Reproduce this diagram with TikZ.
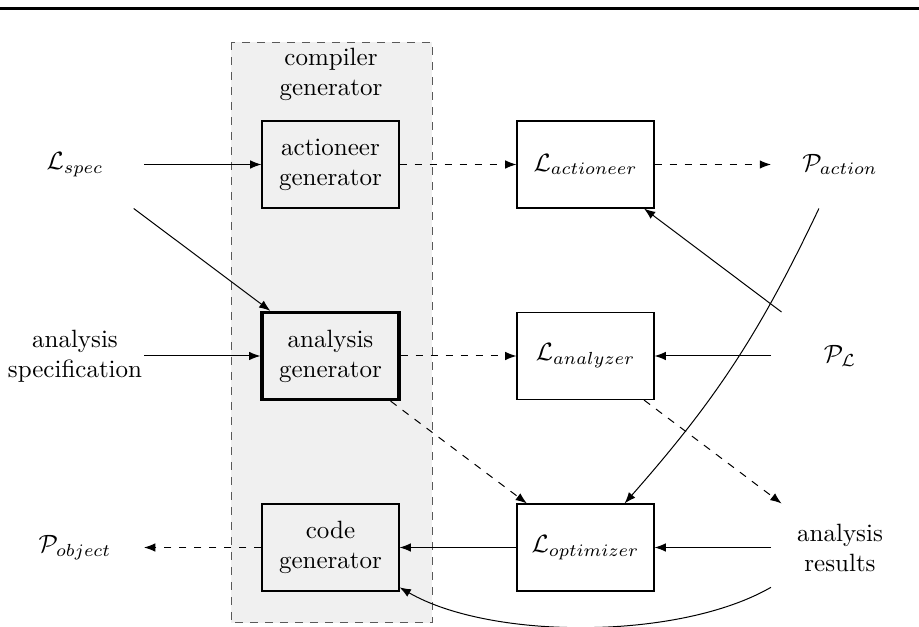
\documentclass[tikz,border=0pt]{standalone}
\usetikzlibrary{arrows.meta}
\begin{document}
\begin{tikzpicture}[x=1pt,y=1pt,
  box/.style={draw, line width=0.45pt, minimum width=54.8pt, minimum height=34.8pt, inner sep=0.5pt, align=center},
  thickbox/.style={box, line width=1.3pt},
  lbl/.style={minimum width=54.8pt, minimum height=34.8pt, inner sep=0.5pt, align=center},
  arr/.style={-{Latex[length=4.5pt,width=3.4pt]}, line width=0.4pt},
  darr/.style={arr, dashed}]
\useasboundingbox (0,0) rectangle (367.6,-250.8);
\draw[line width=1.1pt] (0,-3.5) -- (367.6,-3.5);
\draw[dashed, draw=black!65, fill=black!6, line width=0.4pt] (92.4,-16.9) rectangle (172.8,-249.2);
\node[align=center, inner sep=0pt] (cg) at (132.4,-29.6) {compiler\\generator};
% column 1
\node[lbl] (lspec) at (30,-65.8) {$\mathcal{L}_{spec}$};
\node[lbl] (aspec) at (30,-142.4) {analysis\\specification};
\node[lbl] (pobj) at (30,-219) {$\mathcal{P}_{object}$};
% column 2
\node[box] (actgen) at (132.2,-65.8) {actioneer\\generator};
\node[thickbox] (angen) at (132.2,-142.4) {analysis\\generator};
\node[box] (codegen) at (132.2,-219) {code\\generator};
% column 3
\node[box] (lact) at (234.2,-65.8) {$\mathcal{L}_{actioneer}$};
\node[box] (lana) at (234.2,-142.4) {$\mathcal{L}_{analyzer}$};
\node[box] (lopt) at (234.2,-219) {$\mathcal{L}_{optimizer}$};
% column 4
\node[lbl] (pact) at (336,-65.8) {$\mathcal{P}_{action}$};
\node[lbl] (pl) at (336,-142.4) {$\mathcal{P}_{\mathcal{L}}$};
\node[lbl] (ares) at (336,-219) {analysis\\results};
% connectors
\draw[arr] (lspec) -- (actgen);
\draw[darr] (actgen) -- (lact);
\draw[darr] (lact) -- (pact);
\draw[arr] (lspec) -- (angen);
\draw[arr] (aspec) -- (angen);
\draw[darr] (angen) -- (lana);
\draw[arr] (pl) -- (lana);
\draw[arr] (pl) -- (lact);
\draw[darr] (angen) -- (lopt);
\draw[darr] (lana) -- (ares);
\draw[arr] (pact) to[bend left=8] (lopt);
\draw[arr] (ares) -- (lopt);
\draw[arr] (lopt) -- (codegen);
\draw[darr] (codegen) -- (pobj);
\draw[arr] (ares) to[bend left=30, looseness=0.73] (codegen);
\end{tikzpicture}
\end{document}
